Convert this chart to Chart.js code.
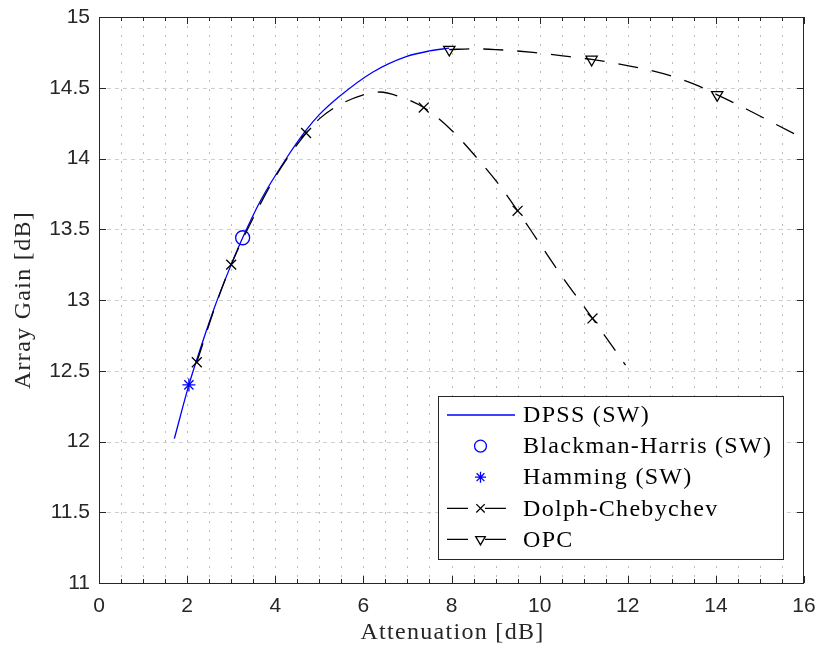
<!DOCTYPE html>
<html>
<head>
<meta charset="utf-8">
<title>Array Gain vs Attenuation</title>
<script src="https://cdn.jsdelivr.net/npm/chart.js@4.4.0/dist/chart.umd.min.js"></script>
<style>
    html, body { margin: 0; padding: 0; background: #ffffff; }
    #wrap { width: 816px; height: 651px; }
</style>
</head>
<body>
<div id="wrap"><canvas id="gainChart" width="816" height="651"></canvas></div>
<script>
// axis ticks
const xTicks = [0, 2, 4, 6, 8, 10, 12, 14, 16];
const yTicks = [11, 11.5, 12, 12.5, 13, 13.5, 14, 14.5, 15];

// DPSS (SW) curve
const dpssAtt  = [1.71, 2.04, 2.22, 2.6, 3.0, 3.26, 3.68, 4.25, 4.7, 5.0, 5.46, 6.21, 6.97, 7.5, 7.95];
const dpssGain = [12.02, 12.40, 12.58, 12.93, 13.25, 13.44, 13.71, 14.0, 14.2, 14.31, 14.44, 14.61, 14.72, 14.76, 14.78];

// single windows
const bhAtt = [3.26];
const bhGain = [13.44];
const hamAtt = [2.04];
const hamGain = [12.40];

// Dolph-Chebychev curve and its markers
const dolphAtt  = [2.22, 2.6, 3.0, 3.5, 4.0, 4.7, 5.0, 5.46, 6.0, 6.37, 6.8, 7.37, 8.0, 8.56, 9.09, 9.5, 10.0, 10.5, 11.2, 11.95];
const dolphGain = [12.56, 12.92, 13.25, 13.58, 13.87, 14.18, 14.28, 14.38, 14.45, 14.47, 14.44, 14.36, 14.20, 14.01, 13.81, 13.63, 13.40, 13.17, 12.87, 12.54];
const dolphMarkAtt  = [2.22, 3.0, 4.7, 7.37, 9.5, 11.2];
const dolphMarkGain = [12.56, 13.25, 14.18, 14.36, 13.63, 12.87];

// OPC curve and its markers
const opcAtt  = [7.95, 8.5, 9.0, 9.85, 10.68, 11.18, 12.27, 13.02, 13.63, 14.03, 14.69, 15.37, 16.0];
const opcGain = [14.77, 14.775, 14.77, 14.75, 14.72, 14.70, 14.64, 14.58, 14.51, 14.45, 14.35, 14.24, 14.14];
const opcMarkAtt  = [7.95, 11.18, 14.03];
const opcMarkGain = [14.77, 14.70, 14.45];

const BLUE = '#0000ff';
const INK = '#262626';

function pts(xs, ys) {
    return xs.map((x, i) => ({ x: x, y: ys[i] }));
}

// legend rows: label, dataset holding the line, dataset holding the marker
const legendRows = [
    { label: 'DPSS (SW)', line: 0, marker: null },
    { label: 'Blackman-Harris (SW)', line: null, marker: 1 },
    { label: 'Hamming (SW)', line: null, marker: 2 },
    { label: 'Dolph-Chebychev', line: 3, marker: 4 },
    { label: 'OPC', line: 5, marker: 6 }
];

const frame = {
    id: 'frame',
    beforeDatasetsDraw(chart) {
        const ctx = chart.ctx;
        const { left, right, top, bottom } = chart.chartArea;
        const xs = chart.scales.x, ys = chart.scales.y;
        ctx.save();
        ctx.lineWidth = 1;
        // vertical dotted grid every 0.5
        ctx.strokeStyle = '#bdbdbd';
        ctx.setLineDash([2, 7]);
        for (let v = 0.5; v < 16; v += 0.5) {
            const px = Math.round(xs.getPixelForValue(v)) + 0.5;
            ctx.beginPath();
            ctx.moveTo(px, top);
            ctx.lineTo(px, bottom);
            ctx.stroke();
        }
        // horizontal dashed grid at y ticks
        ctx.strokeStyle = '#cfcfcf';
        ctx.setLineDash([4, 4]);
        yTicks.slice(1, -1).forEach(v => {
            const py = Math.round(ys.getPixelForValue(v)) + 0.5;
            ctx.beginPath();
            ctx.moveTo(left, py);
            ctx.lineTo(right, py);
            ctx.stroke();
        });
        ctx.restore();
    },
    afterDatasetsDraw(chart) {
        const ctx = chart.ctx;
        const { left, right, top, bottom } = chart.chartArea;
        const xs = chart.scales.x, ys = chart.scales.y;
        ctx.save();
        ctx.strokeStyle = INK;
        ctx.lineWidth = 1;
        ctx.setLineDash([]);
        ctx.strokeRect(left + 0.5, top + 0.5, right - left - 1, bottom - top);
        // inward tick marks
        ctx.beginPath();
        for (let v = 0; v <= 16; v += 0.5) {
            const px = Math.round(xs.getPixelForValue(v)) + 0.5;
            const len = xTicks.includes(v) ? 7 : 4;
            ctx.moveTo(px, bottom);
            ctx.lineTo(px, bottom - len);
            ctx.moveTo(px, top);
            ctx.lineTo(px, top + len);
        }
        yTicks.forEach(v => {
            const py = Math.round(ys.getPixelForValue(v)) + 0.5;
            ctx.moveTo(left, py);
            ctx.lineTo(left + 7, py);
            ctx.moveTo(right, py);
            ctx.lineTo(right - 7, py);
        });
        ctx.stroke();
        ctx.restore();
    },
    afterDraw(chart) {
        const ctx = chart.ctx;
        const { left, right } = chart.chartArea;
        ctx.save();
        ctx.fillStyle = INK;
        ctx.font = '24px "Liberation Serif"';
        ctx.letterSpacing = '1.3px';
        ctx.textAlign = 'center';
        ctx.textBaseline = 'alphabetic';
        ctx.fillText('Attenuation [dB]', (left + right) / 2 + 1, 639);
        ctx.save();
        ctx.translate(30, 300);
        ctx.rotate(-Math.PI / 2);
        ctx.fillText('Array Gain [dB]', 0, 0);
        ctx.restore();

        // legend
        const bx = 438.5, by = 396.5, bw = 345, bh = 163;
        ctx.fillStyle = '#ffffff';
        ctx.fillRect(bx, by, bw, bh);
        ctx.strokeStyle = INK;
        ctx.lineWidth = 1;
        ctx.strokeRect(bx, by, bw, bh);
        const sets = chart.data.datasets;
        legendRows.forEach((row, i) => {
            const y = 415 + i * 31.1;
            if (row.line !== null) {
                const ds = sets[row.line];
                ctx.save();
                ctx.strokeStyle = ds.borderColor;
                ctx.lineWidth = ds.borderWidth;
                if (ds.borderDash) {
                    ctx.setLineDash([21, 17]);
                    ctx.beginPath();
                    ctx.moveTo(447, y);
                    ctx.lineTo(507, y);
                } else {
                    ctx.beginPath();
                    ctx.moveTo(447, y);
                    ctx.lineTo(515, y);
                }
                ctx.stroke();
                ctx.restore();
            }
            if (row.marker !== null) {
                const ds = sets[row.marker];
                ctx.save();
                ctx.strokeStyle = ds.pointBorderColor;
                ctx.fillStyle = 'rgba(0,0,0,0)';
                ctx.lineWidth = ds.pointBorderWidth;
                ctx.setLineDash([]);
                Chart.helpers.drawPoint(ctx, {
                    pointStyle: ds.pointStyle,
                    rotation: ds.pointRotation || 0,
                    radius: ds.pointRadius * 0.85,
                    borderWidth: ds.pointBorderWidth
                }, 480.5, y);
                ctx.restore();
            }
            ctx.fillStyle = '#000000';
            ctx.textAlign = 'left';
            ctx.textBaseline = 'middle';
            ctx.fillText(row.label, 523, y + 1);
        });
        ctx.restore();
    }
};

const tickFont = { family: '"Liberation Sans", Arial, sans-serif', size: 21 };

new Chart(document.getElementById('gainChart'), {
    type: 'scatter',
    data: {
        datasets: [
            {
                label: 'DPSS (SW)',
                data: pts(dpssAtt, dpssGain),
                showLine: true,
                borderColor: BLUE,
                borderWidth: 1.3,
                cubicInterpolationMode: 'monotone',
                pointRadius: 0,
                order: 5
            },
            {
                label: 'Blackman-Harris (SW)',
                data: pts(bhAtt, bhGain),
                showLine: false,
                pointStyle: 'circle',
                pointRadius: 7,
                pointBorderColor: BLUE,
                pointBackgroundColor: 'rgba(0,0,0,0)',
                pointBorderWidth: 1.3,
                order: 4
            },
            {
                label: 'Hamming (SW)',
                data: pts(hamAtt, hamGain),
                showLine: false,
                pointStyle: 'star',
                pointRadius: 6.5,
                pointBorderColor: BLUE,
                pointBackgroundColor: 'rgba(0,0,0,0)',
                pointBorderWidth: 1.3,
                order: 3
            },
            {
                label: 'Dolph-Chebychev',
                data: pts(dolphAtt, dolphGain),
                showLine: true,
                borderColor: '#000000',
                borderWidth: 1.3,
                borderDash: [20, 14],
                cubicInterpolationMode: 'monotone',
                pointRadius: 0,
                order: 2
            },
            {
                label: 'Dolph-Chebychev markers',
                data: pts(dolphMarkAtt, dolphMarkGain),
                showLine: false,
                pointStyle: 'crossRot',
                pointRadius: 7,
                pointBorderColor: '#000000',
                pointBorderWidth: 1.3,
                order: 2
            },
            {
                label: 'OPC',
                data: pts(opcAtt, opcGain),
                showLine: true,
                borderColor: '#000000',
                borderWidth: 1.3,
                borderDash: [20, 14],
                cubicInterpolationMode: 'monotone',
                pointRadius: 0,
                order: 1
            },
            {
                label: 'OPC markers',
                data: pts(opcMarkAtt, opcMarkGain),
                showLine: false,
                pointStyle: 'triangle',
                pointRotation: 180,
                pointRadius: 6.5,
                pointBorderColor: '#000000',
                pointBackgroundColor: 'rgba(0,0,0,0)',
                pointBorderWidth: 1.3,
                order: 1
            }
        ]
    },
    options: {
        responsive: false,
        animation: false,
        devicePixelRatio: 1,
        layout: { padding: { left: 0, right: 12, top: 17, bottom: 0 } },
        plugins: {
            legend: { display: false },
            tooltip: { enabled: false }
        },
        scales: {
            x: {
                type: 'linear',
                min: 0,
                max: 16,
                afterBuildTicks: scale => { scale.ticks = xTicks.map(v => ({ value: v })); },
                afterFit: scale => {
                    scale.height = 68;
                    scale.paddingLeft = 0;
                    scale.paddingRight = 0;
                },
                grid: { display: false, drawTicks: false },
                border: { display: false },
                ticks: { color: INK, font: tickFont, padding: 11, maxRotation: 0, autoSkip: false, callback: v => String(v) }
            },
            y: {
                type: 'linear',
                min: 11,
                max: 15,
                afterBuildTicks: scale => { scale.ticks = yTicks.map(v => ({ value: v })); },
                afterFit: scale => {
                    scale.width = 99;
                    scale.paddingTop = 0;
                    scale.paddingBottom = 0;
                },
                grid: { display: false, drawTicks: false },
                border: { display: false },
                ticks: { color: INK, font: tickFont, padding: 9, autoSkip: false, callback: v => String(v) }
            }
        }
    },
    plugins: [frame]
});
</script>
</body>
</html>
